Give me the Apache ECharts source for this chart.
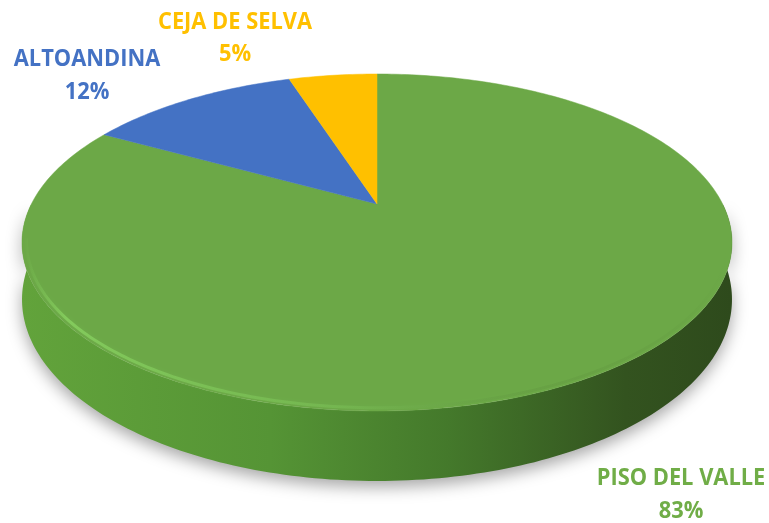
<!DOCTYPE html>
<html><head><meta charset="utf-8">
<script src="https://cdn.jsdelivr.net/npm/echarts@6.0.0/dist/echarts.min.js"></script>
<style>html,body{margin:0;padding:0;background:#fff}#c{width:769px;height:523px}</style>
</head><body><div id="c"></div>
<script>
// ---- data ----
const categories = ['PISO DEL VALLE', 'ALTOANDINA', 'CEJA DE SELVA'];
const values = [83, 12, 5];

// ---- styles / layout ----
const colors = ['#6CA847', '#4472C4', '#FFC000'];
const labelColors = ['#70AD47', '#4472C4', '#FFC000'];
const labelPos = [[681, 478, 511], [87, 59, 92], [235, 22, 54]];
const VIEW = {cx: 377, cy: 204, sx: 345.6, sy: 159.7, p: 0.2284, depth: 54};

function proj(phi, r, down) {
  const X = r * Math.sin(phi), Z = r * Math.cos(phi);
  const w = 1 + VIEW.p * Z;
  return [VIEW.cx + VIEW.sx * X / w, VIEW.cy - VIEW.sy * Z / w + (down ? VIEW.depth / w : 0)];
}

const chart = echarts.init(document.getElementById('c'));
const total = values.reduce((a, b) => a + b, 0);

chart.setOption({
  animation: false,
  series: [{
    type: 'custom',
    coordinateSystem: 'none',
    data: values.map((v, i) => ({name: categories[i], value: v})),
    renderItem: function (params, api) {
      const i = params.dataIndex;
      let a0 = 0;
      for (let k = 0; k < i; k++) a0 += values[k] / total * 2 * Math.PI;
      const a1 = a0 + values[i] / total * 2 * Math.PI;
      const children = [];
      const deg = Math.PI / 180;
      // top face
      const pts = [proj(0, 0, false)];
      const n = Math.max(8, Math.ceil((a1 - a0) / deg));
      for (let j = 0; j <= n; j++) pts.push(proj(a0 + (a1 - a0) * j / n, 1, false));
      children.push({type: 'polygon', shape: {points: pts}, style: {fill: colors[i], stroke: colors[i], lineWidth: 0.5}, z2: 10});
      // visible side
      const s0 = Math.max(a0, Math.PI / 2), s1 = Math.min(a1, 3 * Math.PI / 2);
      if (s1 > s0) {
        const top = [], bot = [], rim = [];
        const m = Math.ceil((s1 - s0) / deg);
        for (let j = 0; j <= m; j++) {
          const a = s0 + (s1 - s0) * j / m;
          top.push(proj(a, 1, false));
          bot.push(proj(a, 1, true));
        }
        const r0 = Math.max(a0, 105 * deg), r1 = Math.min(a1, 258 * deg);
        for (let j = 0; j <= m; j++) {
          const a = r0 + (r1 - r0) * j / m;
          rim.push(proj(a, 0.988, false));
        }
        children.push({
          type: 'polygon', shape: {points: top.concat(bot.slice().reverse())},
          style: {
            fill: new echarts.graphic.LinearGradient(0, 0, 1, 0, [
              {offset: 0, color: '#62A33B'},
              {offset: 0.35, color: '#559435'},
              {offset: 0.6, color: '#44792B'},
              {offset: 0.85, color: '#33531F'},
              {offset: 1, color: '#2E4A1C'}
            ]),
            shadowBlur: 16, shadowColor: 'rgba(0,0,0,0.35)', shadowOffsetY: 6
          },
          z2: 1
        });
        children.push({
          type: 'polyline', shape: {points: rim},
          style: {
            fill: null, lineWidth: 3,
            stroke: new echarts.graphic.LinearGradient(0, 0, 1, 0, [
              {offset: 0, color: 'rgba(140,215,100,0)'},
              {offset: 0.06, color: 'rgba(140,215,100,0.7)'},
              {offset: 0.45, color: 'rgba(130,205,95,0.35)'},
              {offset: 0.75, color: 'rgba(80,120,50,0.15)'},
              {offset: 1, color: 'rgba(50,80,30,0)'}
            ]),
            shadowBlur: 5, shadowColor: 'rgba(120,200,90,0.3)'
          },
          z2: 11
        });
      }
      // labels
      const pct = Math.round(values[i] / total * 100) + '%';
      const font = 'bold 24px "Open Sans", "Liberation Sans", sans-serif';
      children.push({type: 'text', x: labelPos[i][0], y: labelPos[i][1], scaleX: 0.91,
        style: {text: categories[i], fill: labelColors[i], font: font, align: 'center', verticalAlign: 'middle'}, z2: 20});
      children.push({type: 'text', x: labelPos[i][0], y: labelPos[i][2], scaleX: 0.91,
        style: {text: pct, fill: labelColors[i], font: font, align: 'center', verticalAlign: 'middle'}, z2: 20});
      return {type: 'group', children: children};
    }
  }]
});
</script>
</body></html>
